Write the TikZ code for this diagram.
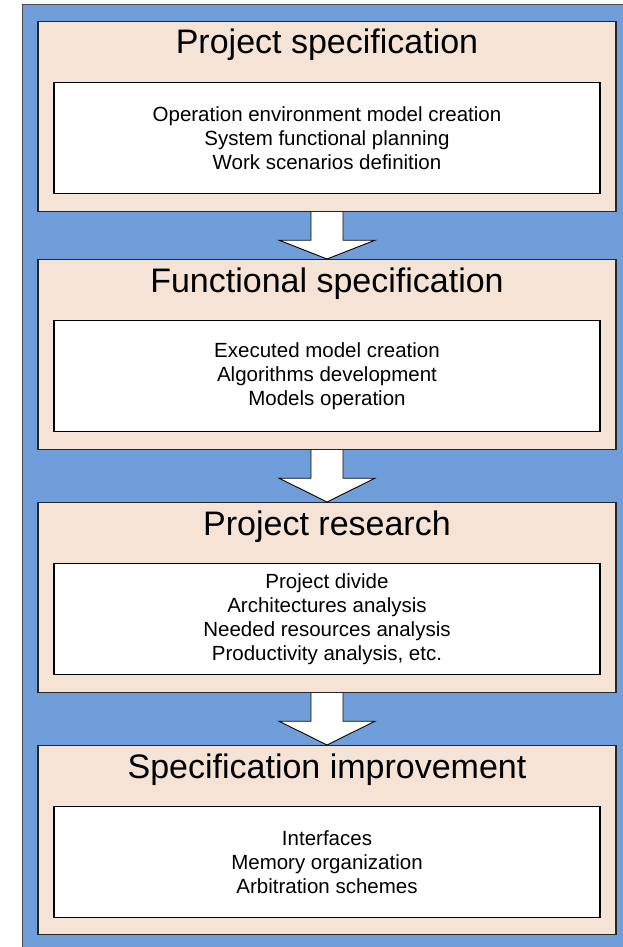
\documentclass[tikz,border=0pt]{standalone}
\usepackage{fontspec}
\setmainfont{Liberation Sans}
\usetikzlibrary{calc}
\definecolor{bgblue}{RGB}{112,158,218}
\definecolor{beige}{RGB}{245,227,213}
\begin{document}
\begin{tikzpicture}[x=1pt,y=-1pt,
  stagebox/.style={draw=black!85, line width=1.2pt, fill=beige, minimum width=578pt, minimum height=190pt, inner sep=0pt, anchor=north},
  innerbox/.style={draw=black, line width=1.1pt, fill=white, minimum width=546pt, minimum height=111pt, inner sep=0pt, anchor=north},
  titletext/.style={font=\fontsize{34}{38}\selectfont, anchor=base},
  bodytext/.style={font=\fontsize{20.5}{24}\selectfont, align=center},
  bigarrow/.style={draw=black, line width=0.9pt, fill=white, line join=miter}]
\useasboundingbox (0,0) rectangle (623,947);
\clip (0,0) rectangle (623,947);
\node[draw=black!70, line width=1.2pt, fill=bgblue, anchor=north west, minimum width=610pt, minimum height=950pt, inner sep=0pt] (bg) at (22,4) {};

\node[stagebox] (s1) at (327,21) {};
\node[stagebox] (s2) at (327,259) {};
\node[stagebox] (s3) at (327,502) {};
\node[stagebox, minimum height=189pt] (s4) at (327,745) {};

\node[innerbox] (w1) at (327,82) {};
\node[innerbox] (w2) at (327,320) {};
\node[innerbox] (w3) at (327,563) {};
\node[innerbox] (w4) at (327,806) {};

\node[titletext] (t1) at (327,54) {Project specification};
\node[titletext] (t2) at (327,292) {Functional specification};
\node[titletext] (t3) at (327,535) {Project research};
\node[titletext] (t4) at (327,778) {Specification improvement};

\node[bodytext] (b1) at (w1.center) {Operation environment model creation\\System functional planning\\Work scenarios definition};
\node[bodytext] (b2) at (w2.center) {Executed model creation\\Algorithms development\\Models operation};
\node[bodytext] (b3) at (w3.center) {Project divide\\Architectures analysis\\Needed resources analysis\\Productivity analysis, etc.};
\node[bodytext] (b4) at (w4.center) {Interfaces\\Memory organization\\Arbitration schemes};

\foreach \a/\b in {s1/s2, s2/s3, s3/s4}{
  \draw[bigarrow] ($(\a.south)+(-16,0)$) -- ++(0,28) -- ++(-32,0) -- (\b.north)
    -- ($(\a.south)+(48,28)$) -- ++(-32,0) -- ($(\a.south)+(16,0)$);
}
\end{tikzpicture}
\end{document}
